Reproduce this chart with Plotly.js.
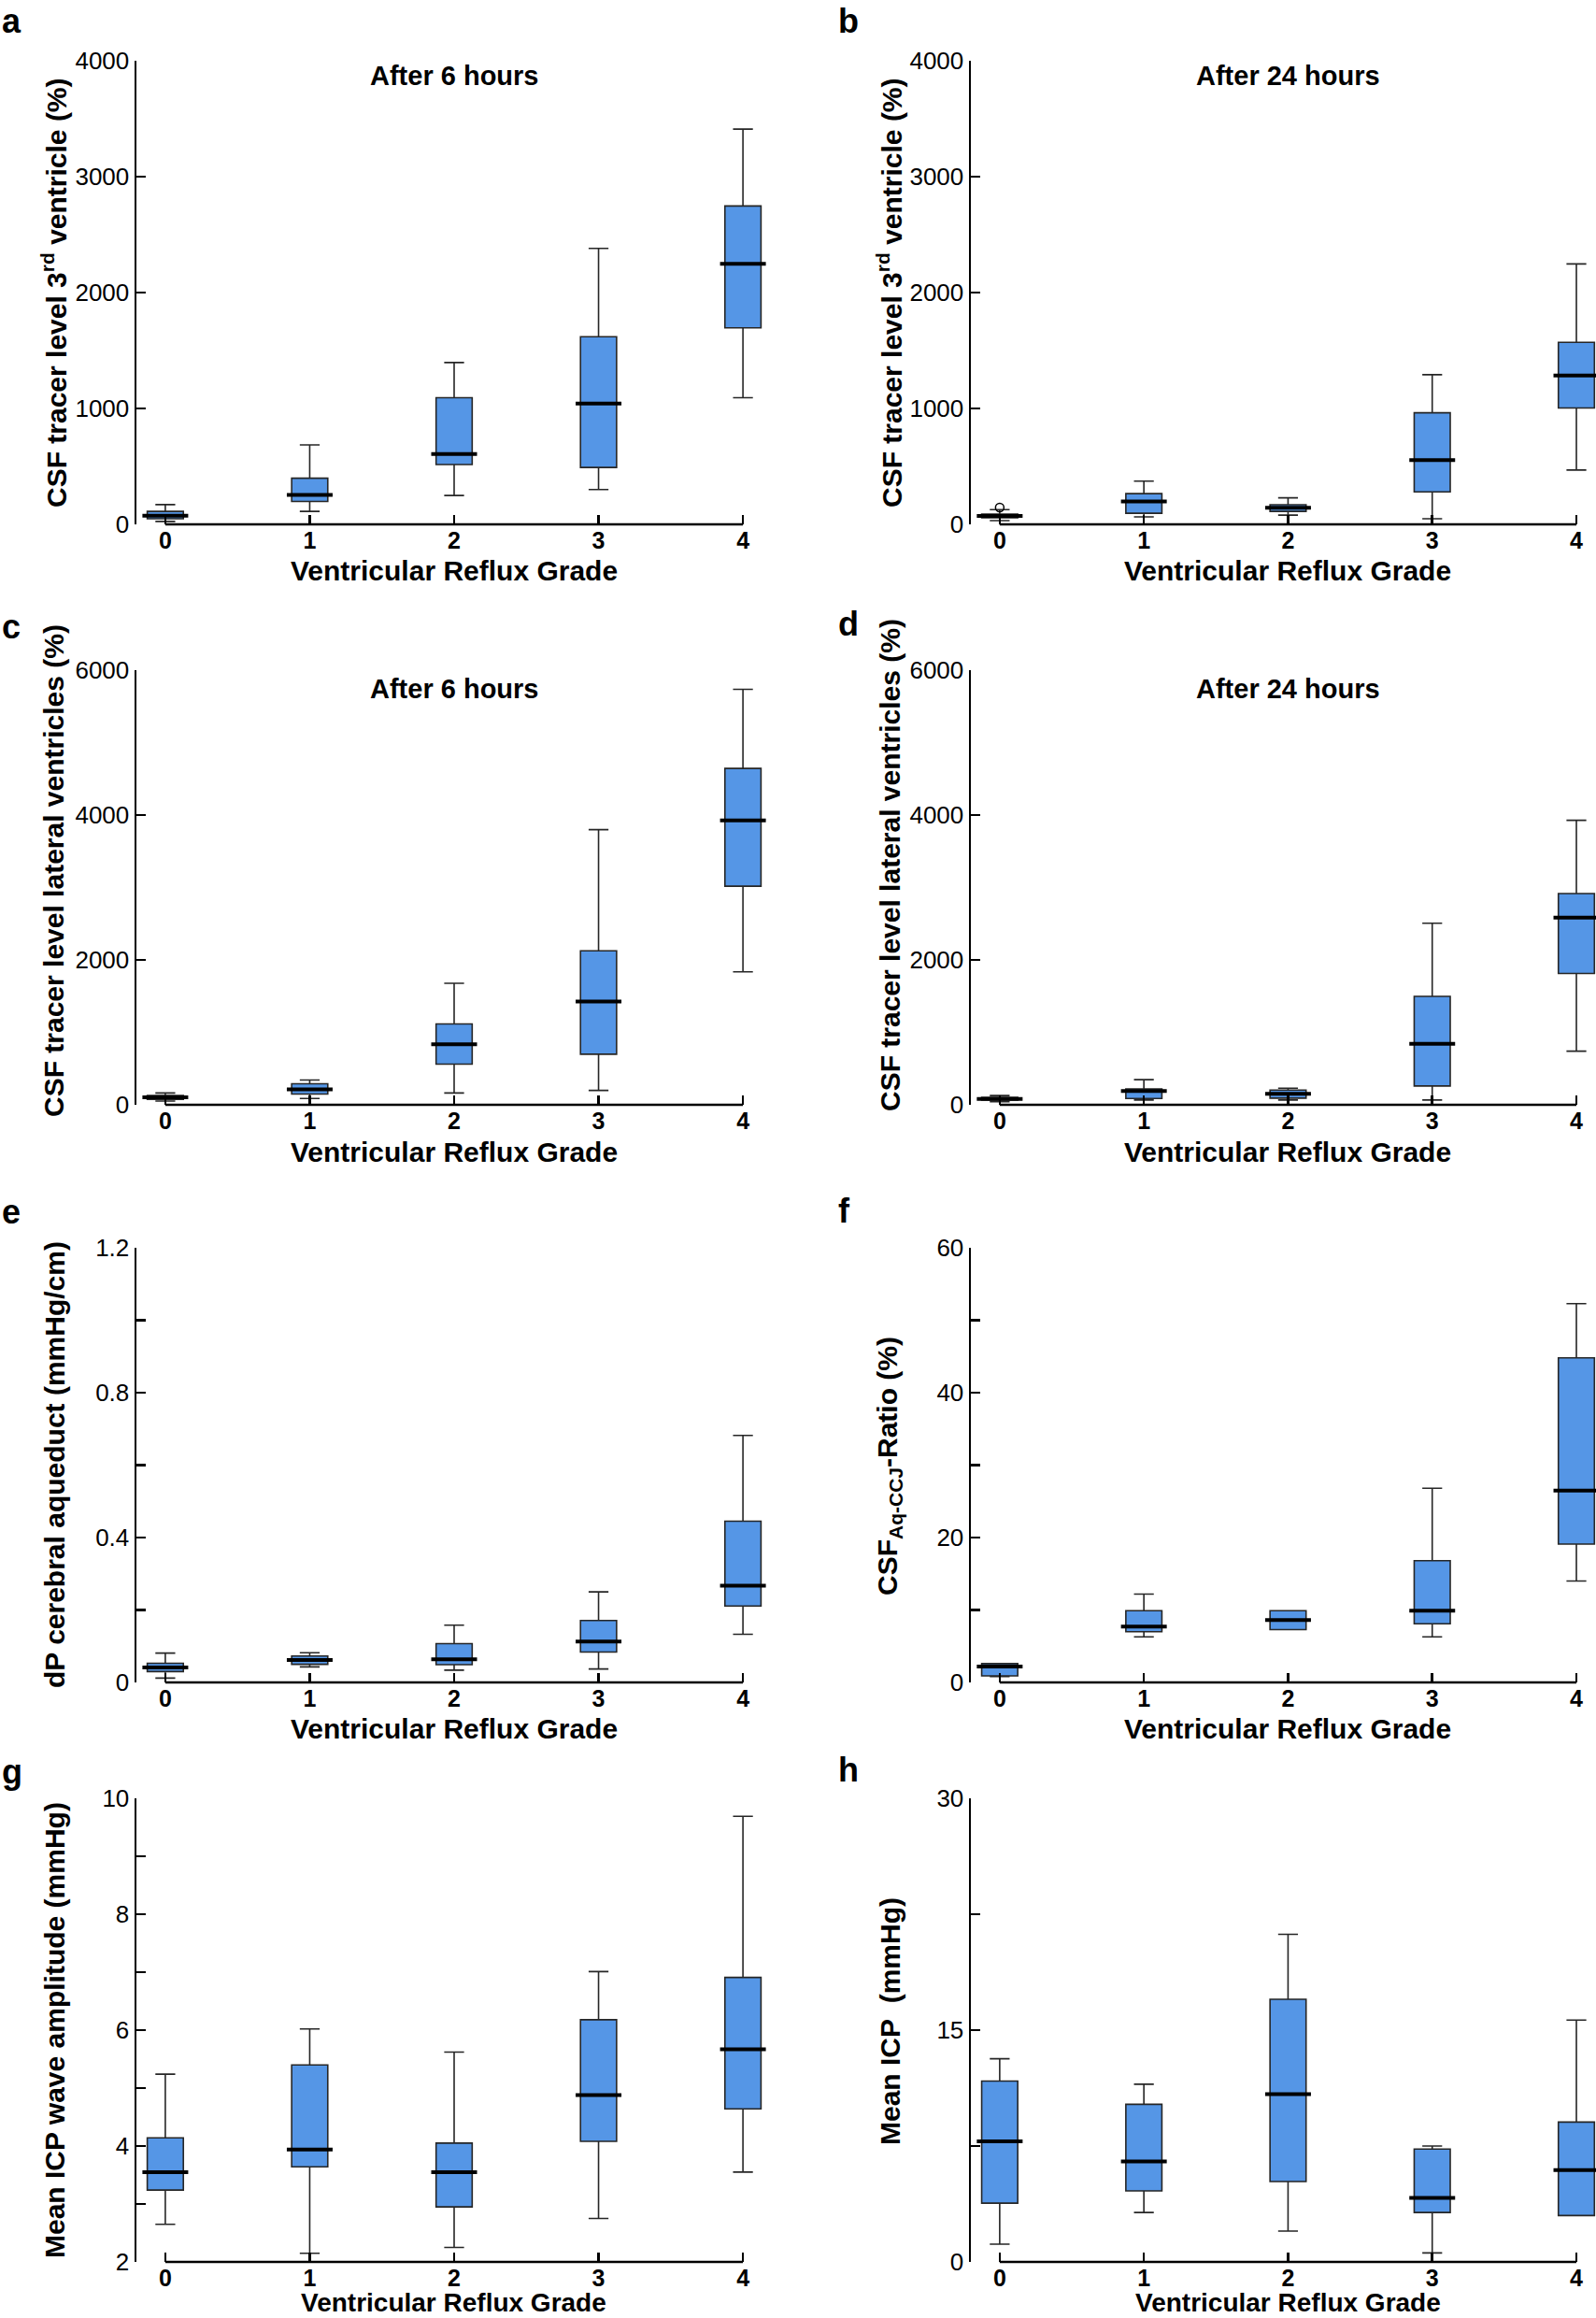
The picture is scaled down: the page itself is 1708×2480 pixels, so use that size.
<!DOCTYPE html>
<html>
<head>
<meta charset="utf-8">
<script src="https://cdn.plot.ly/plotly-3.0.1.min.js"></script>
<style>html,body{margin:0;padding:0;background:#fff;}#chart{width:1708px;height:2480px;}</style>
</head>
<body>
<div id="chart"></div>
<script>
// ---------- DATA ----------
const grades = [0, 1, 2, 3, 4];
const gradeLabels = ['0', '1', '2', '3', '4'];

// a: CSF tracer level 3rd ventricle, after 6 h
const a_low  = [25, 112, 249, 300, 1093];
const a_q1   = [48, 198, 516, 491, 1696];
const a_med  = [75, 255, 606, 1042, 2247];
const a_q3   = [112, 398, 1093, 1619, 2747];
const a_high = [170, 685, 1396, 2381, 3410];

// b: CSF tracer level 3rd ventricle, after 24 h
const b_low  = [32, 64, 80, 48, 469];
const b_q1   = [57, 96, 112, 280, 1004];
const b_med  = [73, 198, 143, 555, 1284];
const b_q3   = [89, 265, 169, 963, 1571];
const b_high = [127, 373, 229, 1291, 2247];
const b_outX = [0];
const b_outY = [145];

// c: CSF tracer level lateral ventricles, after 6 h
const c_low  = [51, 87, 163, 199, 1835];
const c_q1   = [76, 148, 561, 698, 3018];
const c_med  = [102, 214, 836, 1427, 3925];
const c_q3   = [127, 291, 1116, 2126, 4644];
const c_high = [163, 342, 1677, 3798, 5735];

// d: CSF tracer level lateral ventricles, after 24 h
const d_low  = [41, 66, 66, 66, 740];
const d_q1   = [66, 87, 92, 260, 1813];
const d_med  = [82, 189, 153, 843, 2584];
const d_q3   = [102, 220, 204, 1496, 2916];
const d_high = [128, 347, 230, 2507, 3927];

// e: dP cerebral aqueduct
const e_low  = [0.012, 0.043, 0.034, 0.037, 0.133];
const e_q1   = [0.030, 0.050, 0.049, 0.084, 0.211];
const e_med  = [0.041, 0.062, 0.064, 0.113, 0.267];
const e_q3   = [0.053, 0.073, 0.107, 0.171, 0.445];
const e_high = [0.081, 0.082, 0.158, 0.250, 0.682];

// f: CSF Aq-CCJ ratio
const f_low  = [0.8, 6.3, 7.3, 6.3, 14.0];
const f_q1   = [0.9, 7.0, 7.3, 8.1, 19.1];
const f_med  = [2.2, 7.7, 8.6, 9.9, 26.5];
const f_q3   = [2.6, 9.9, 9.9, 16.8, 44.8];
const f_high = [2.6, 12.2, 9.9, 26.8, 52.3];

// g: Mean ICP wave amplitude
const g_low  = [2.65, 2.15, 2.25, 2.75, 3.55];
const g_q1   = [3.24, 3.64, 2.95, 4.08, 4.64];
const g_med  = [3.55, 3.94, 3.55, 4.88, 5.67];
const g_q3   = [4.14, 5.40, 4.05, 6.18, 6.91];
const g_high = [5.24, 6.02, 5.62, 7.01, 9.69];

// h: Mean ICP
const h_low  = [1.15, 3.2, 2.0, 0.58, 3.0];
const h_q1   = [3.8, 4.6, 5.2, 3.2, 3.0];
const h_med  = [7.8, 6.5, 10.85, 4.15, 5.95];
const h_q3   = [11.7, 10.2, 17.0, 7.3, 9.05];
const h_high = [13.15, 11.5, 21.2, 7.5, 15.65];

// tick values (labelled major ticks and unlabelled minor ticks)
const ticksA = [0, 1000, 2000, 3000, 4000];
const minorA = [];
const ticksC = [0, 2000, 4000, 6000];
const minorC = [];
const ticksE = [0, 0.4, 0.8, 1.2];
const minorE = [0.2, 0.6, 1.0];
const ticksF = [0, 20, 40, 60];
const minorF = [10, 30, 50];
const ticksG = [2, 4, 6, 8, 10];
const minorG = [3, 5, 7, 9];
const ticksH = [0, 15, 30];
const minorH = [7.5, 22.5];

// ---------- LAYOUT HELPERS ----------
const W = 1708, H = 2480;
const px = x => x / W;
const py = y => 1 - y / H;
const FONT = 'Liberation Sans, Arial, Helvetica, sans-serif';
const BOX_FILL = '#5596e6';

const panels = [
  {id: '',  col: 0, top: 65,   bot: 561,  yr: [0, 4000], tv: ticksA, mv: minorA,
   d: [a_low, a_q1, a_med, a_q3, a_high], letter: 'a', title: 'After 6 hours',
   ytitle: 'CSF tracer level 3<sup>rd</sup> ventricle (%)', ytY: 313, xtY: 610, ttY: 81, lY: 22},
  {id: '2', col: 1, top: 65,   bot: 561,  yr: [0, 4000], tv: ticksA, mv: minorA,
   d: [b_low, b_q1, b_med, b_q3, b_high], letter: 'b', title: 'After 24 hours',
   ytitle: 'CSF tracer level 3<sup>rd</sup> ventricle (%)', ytY: 313, xtY: 610, ttY: 81, lY: 22},
  {id: '3', col: 0, top: 717,  bot: 1182, yr: [0, 6000], tv: ticksC, mv: minorC,
   d: [c_low, c_q1, c_med, c_q3, c_high], letter: 'c', title: 'After 6 hours',
   ytitle: 'CSF tracer level lateral ventricles (%)', ytY: 932, xtY: 1232, ttY: 737, lY: 670},
  {id: '4', col: 1, top: 717,  bot: 1182, yr: [0, 6000], tv: ticksC, mv: minorC,
   d: [d_low, d_q1, d_med, d_q3, d_high], letter: 'd', title: 'After 24 hours',
   ytitle: 'CSF tracer level lateral ventricles (%)', ytY: 925, xtY: 1232, ttY: 737, lY: 668},
  {id: '5', col: 0, top: 1335, bot: 1800, yr: [0, 1.2], tv: ticksE, mv: minorE,
   d: [e_low, e_q1, e_med, e_q3, e_high], letter: 'e', title: '',
   ytitle: 'dP cerebral aqueduct (mmHg/cm)', ytY: 1567, xtY: 1849, ttY: 0, lY: 1296},
  {id: '6', col: 1, top: 1335, bot: 1800, yr: [0, 60], tv: ticksF, mv: minorF,
   d: [f_low, f_q1, f_med, f_q3, f_high], letter: 'f', title: '',
   ytitle: 'CSF<sub>Aq-CCJ</sub>-Ratio (%)', ytY: 1568, xtY: 1849, ttY: 0, lY: 1295},
  {id: '7', col: 0, top: 1924, bot: 2420, yr: [2, 10], tv: ticksG, mv: minorG,
   d: [g_low, g_q1, g_med, g_q3, g_high], letter: 'g', title: '',
   ytitle: 'Mean ICP wave amplitude (mmHg)', ytY: 2172, xtY: 2480, ttY: 0, lY: 1895},
  {id: '8', col: 1, top: 1924, bot: 2420, yr: [0, 30], tv: ticksH, mv: minorH,
   d: [h_low, h_q1, h_med, h_q3, h_high], letter: 'h', title: '',
   ytitle: 'Mean ICP&nbsp;&nbsp;(mmHg)', ytY: 2162, xtY: 2480, ttY: 0, lY: 1893}
];

// column geometry (pixels)
const cols = [
  {left: 146, right: 826, range: [-0.2, 4.2], titleX: 486, ytX: 58, letterX: 0},
  {left: 1039, right: 1708, range: [-0.2, 4.136], titleX: 1378, ytX: 952, letterX: 895}
];

const traces = [];
const layout = {
  width: W, height: H,
  margin: {l: 0, r: 0, t: 0, b: 0},
  paper_bgcolor: '#fff', plot_bgcolor: '#fff',
  showlegend: false,
  font: {family: FONT, color: '#000'},
  annotations: [], shapes: []
};

panels.forEach(p => {
  const c = cols[p.col];
  const xa = 'x' + p.id, ya = 'y' + p.id;
  const xKey = 'xaxis' + p.id, yKey = 'yaxis' + p.id;
  const bottomRow = p.xtY >= H;
  layout[xKey] = {
    domain: [px(c.left), px(c.right)], range: c.range, anchor: ya,
    tickmode: 'array', tickvals: grades, ticktext: gradeLabels,
    ticks: 'inside', ticklen: 10, tickwidth: 2.5, tickcolor: '#000',
    showline: false, showgrid: false, zeroline: false, fixedrange: true,
    tickfont: {family: FONT, size: 25, weight: 700, color: '#000'}
  };
  const yax = {
    domain: [py(p.bot), py(p.top)], range: p.yr, anchor: xa,
    tickmode: 'array', tickvals: p.tv,
    ticks: 'inside', ticklen: 10, tickwidth: 2.5, tickcolor: '#000',
    showline: true, linewidth: 2.5, linecolor: '#000',
    showgrid: false, zeroline: false, fixedrange: true,
    tickfont: {family: FONT, size: 26, color: '#000'}
  };
  if (p.mv.length) {
    yax.minor = {tickmode: 'array', tickvals: p.mv, ticks: 'inside', ticklen: 10,
                 tickwidth: 2.5, tickcolor: '#000', showgrid: false};
  }
  layout[yKey] = yax;
  // baseline from first to last grade
  layout.shapes.push({
    type: 'line', xref: xa, yref: ya + ' domain',
    x0: grades[0], x1: grades[grades.length - 1], y0: 0, y1: 0,
    line: {color: '#000', width: 2.5}
  });
  const [lo, q1, md, q3, hi] = p.d;
  traces.push({
    type: 'box', x: grades, q1: q1, median: md, q3: q3,
    lowerfence: lo, upperfence: hi,
    boxpoints: false, width: 0.25, whiskerwidth: 0.55,
    fillcolor: BOX_FILL, line: {color: '#262626', width: 1.6},
    xaxis: xa, yaxis: ya, hoverinfo: 'skip'
  });
  traces.push({
    type: 'scatter', mode: 'markers', x: grades, y: md,
    marker: {symbol: 'line-ew', size: 35, color: '#000', line: {color: '#000', width: 4}},
    xaxis: xa, yaxis: ya, hoverinfo: 'skip', cliponaxis: true
  });
  // annotations
  if (p.title) {
    layout.annotations.push({
      xref: 'paper', yref: 'paper', x: px(c.titleX), y: py(p.ttY),
      xanchor: 'center', yanchor: 'middle', showarrow: false,
      text: p.title, font: {family: FONT, size: 29, weight: 700, color: '#000'}
    });
  }
  layout.annotations.push({
    xref: 'paper', yref: 'paper', x: px(c.ytX), y: py(p.ytY),
    xanchor: 'center', yanchor: 'middle', showarrow: false, textangle: -90,
    text: p.ytitle, font: {family: FONT, size: 30, weight: 700, color: '#000'}
  });
  layout.annotations.push({
    xref: 'paper', yref: 'paper', x: px(c.titleX), y: py(p.xtY),
    xanchor: 'center', yanchor: bottomRow ? 'bottom' : 'middle', showarrow: false,
    borderpad: 0,
    text: 'Ventricular Reflux Grade',
    font: {family: FONT, size: bottomRow ? 28 : 30, weight: 700, color: '#000'}
  });
  layout.annotations.push({
    xref: 'paper', yref: 'paper', x: px(c.letterX), y: py(p.lY),
    xanchor: 'left', yanchor: 'middle', showarrow: false,
    text: p.letter, font: {family: FONT, size: 36, weight: 700, color: '#000'}
  });
});

// outlier in panel b
traces.push({
  type: 'scatter', mode: 'markers', x: b_outX, y: b_outY,
  marker: {symbol: 'circle-open', size: 9, color: '#000', line: {color: '#000', width: 1.5}},
  xaxis: 'x2', yaxis: 'y2', hoverinfo: 'skip'
});

Plotly.newPlot('chart', traces, layout, {staticPlot: true, displayModeBar: false});
</script>
</body>
</html>
